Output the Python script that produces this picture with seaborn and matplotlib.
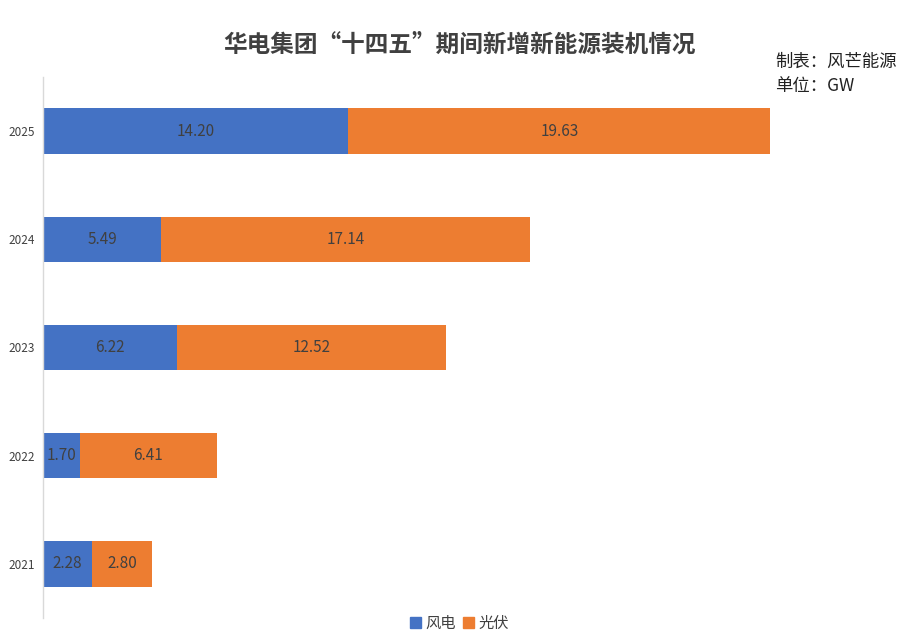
import pandas as pd
import matplotlib.pyplot as plt
import seaborn as sns
from matplotlib.patches import Patch

# data (GW)
years = ['2025', '2024', '2023', '2022', '2021']
wind = [14.20, 5.49, 6.22, 1.70, 2.28]
solar = [19.63, 17.14, 12.52, 6.41, 2.80]

df = pd.DataFrame({'year': years, 'wind': wind, 'solar': solar})
df['total'] = df['wind'] + df['solar']

sns.set_style('white')
plt.rcParams['font.family'] = ['Noto Sans CJK SC', 'DejaVu Sans']

blue = '#4472C4'
orange = '#ED7D31'
txt = '#404040'

fig = plt.figure(figsize=(9.19, 6.41), dpi=100)
ax = fig.add_axes([43 / 919, 23 / 641, 860 / 919, 541 / 641])

# stacked bars: total first (orange), wind drawn over it
sns.barplot(data=df, x='total', y='year', order=years, color=orange,
            width=0.42, saturation=1, linewidth=0, ax=ax)
sns.barplot(data=df, x='wind', y='year', order=years, color=blue,
            width=0.42, saturation=1, linewidth=0, ax=ax)

for i, (w, s) in enumerate(zip(wind, solar)):
    ax.text(w / 2, i, f'{w:.2f}', ha='center', va='center', fontsize=11, color=txt)
    ax.text(w + s / 2, i, f'{s:.2f}', ha='center', va='center', fontsize=11, color=txt)

ax.set_xlim(0, 40)
ax.set_ylim(4.5, -0.5)
ax.set_xlabel('')
ax.set_ylabel('')
ax.set_xticks([])
ax.tick_params(axis='y', length=0, labelsize=8.5, labelcolor=txt, pad=6)
for side in ['top', 'right', 'bottom']:
    ax.spines[side].set_visible(False)
ax.spines['left'].set_color('#d9d9d9')
ax.spines['left'].set_linewidth(1)

fig.text(0.5, 1 - 45 / 641, '华电集团“十四五”期间新增新能源装机情况', ha='center', va='center',
         fontsize=17, fontweight='bold', color=txt)
fig.text(775 / 919, 1 - 62 / 641, '制表：风芒能源', ha='left', va='center', fontsize=12.5, color='#222222')
fig.text(775 / 919, 1 - 86 / 641, '单位：GW', ha='left', va='center', fontsize=12.5, color='#222222')

handles = [Patch(color=blue, label='风电'), Patch(color=orange, label='光伏')]
fig.legend(handles=handles, loc='center', bbox_to_anchor=(0.5, 1 - 623 / 641), ncol=2,
           frameon=False, fontsize=11, handlelength=0.7, handleheight=0.7,
           handletextpad=0.3, columnspacing=0.5, labelcolor=txt)

fig.savefig('out.png', dpi=100)
